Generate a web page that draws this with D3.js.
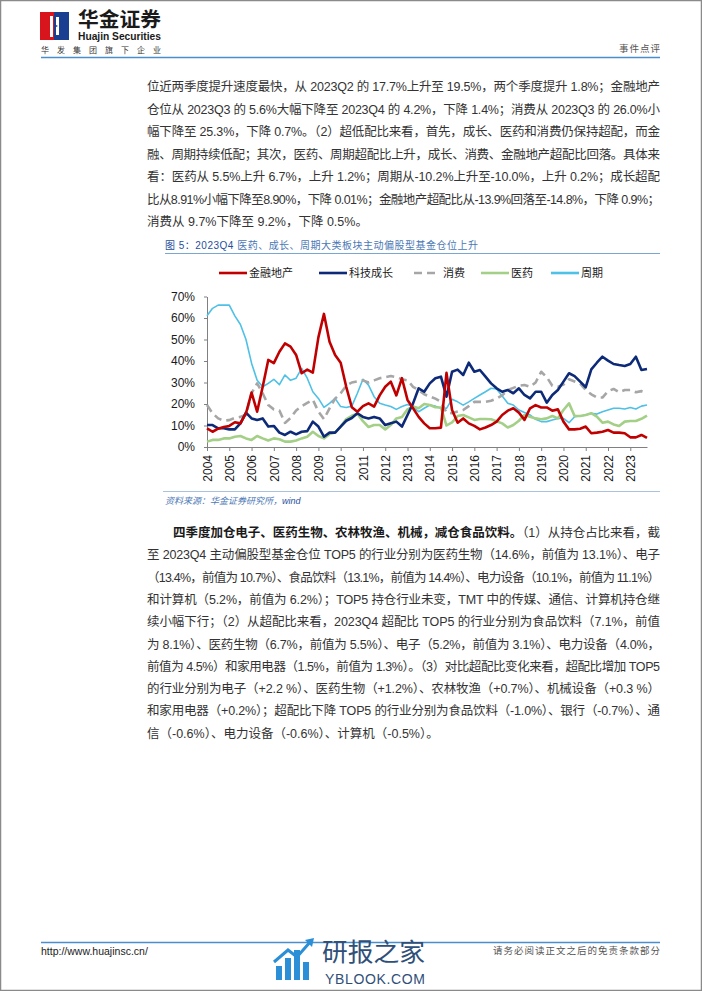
<!DOCTYPE html>
<html>
<head>
<meta charset="utf-8">
<title>2023Q4 主动偏股型基金大类板块仓位</title>
<script src="https://cdn.jsdelivr.net/npm/d3@7"></script>
<style>
  body { margin: 0; background: #fff; }
  svg { display: block; font-family: "Liberation Sans", Arial, "Noto Sans CJK SC", sans-serif; }
</style>
</head>
<body>
<svg id="page" width="702" height="991"></svg>
<script>
// ---- chart data (quarterly, 2004Q1 - 2023Q4, % of holdings) ----
const years = [2004, 2005, 2006, 2007, 2008, 2009, 2010, 2011, 2012, 2013,
               2014, 2015, 2016, 2017, 2018, 2019, 2020, 2021, 2022, 2023];
const quarterNames = ["Q1", "Q2", "Q3", "Q4"];
const quarters = years.flatMap(yr => quarterNames.map(q => yr + q));

const finance = [8.7, 7.1, 8.5, 9.3, 9.8, 11.5, 11, 15.7, 25.3, 16.4,
                 28, 40.5, 39, 44.3, 48.2, 46.7, 42.8, 34.3, 36, 34.6,
                 51, 61.9, 49, 42.8, 39.2, 28, 18.5, 16.4, 19, 20.3,
                 18.8, 24, 28, 30.4, 24, 32, 21.9, 18, 14, 11,
                 8.7, 8.7, 9, 34.5, 17.2, 11.3, 13.3, 11, 9.8, 8.2,
                 9.1, 10.2, 11.8, 14.9, 16.9, 18, 16, 12.6, 18, 19.5,
                 18.4, 18.4, 16.9, 17.5, 11.8, 8.2, 8.2, 8.5, 9.5, 6.4,
                 6.7, 7.1, 7.9, 6.7, 6.7, 6.4, 4.5, 4.5, 5.6, 4.2];
const tech = [10.2, 10.2, 8.7, 8.7, 8.2, 8.2, 11, 16, 13.3, 12.6,
              13.3, 9.5, 9.8, 6.7, 5.6, 7.1, 5.9, 7.1, 7.4, 11.8,
              9.5, 4.8, 6.7, 6.7, 9.5, 12.2, 13.5, 15.7, 14, 13.3,
              14, 13.3, 10.2, 11, 11.8, 9.5, 14.9, 20.3, 27.3, 25.7,
              29.6, 32, 32.7, 23.4, 35, 36, 33.5, 39.2, 35, 35.8,
              32.7, 29.6, 27.3, 25.7, 26.5, 25, 27.3, 24.2, 22.6, 25.7,
              25.7, 20.6, 24.2, 26.5, 30.4, 34.3, 33, 30.4, 27.8, 36.1,
              39.2, 42, 40.2, 38.6, 38.1, 37.7, 38.6, 42, 35.8, 36.3];
const consumer = [19.5, 15.7, 13.3, 12.3, 12.5, 13.5, 14, 15, 25, 29.6,
                  25, 19.5, 17.5, 17, 11.2, 13.5, 17, 19, 20.5, 22,
                  16.5, 13, 18, 22.5, 25, 28.5, 30, 30.5, 31, 30,
                  31, 32, 32.5, 33, 32.5, 31.5, 31, 28, 26.5, 24.5,
                  23.5, 22.5, 21, 16, 15.7, 16.5, 17.2, 19, 21, 21,
                  21, 21.5, 22.5, 24, 26.5, 27.5, 28.5, 28.8, 28, 30,
                  35, 32.5, 28.5, 28, 29, 31.5, 30.5, 29.5, 26.5, 24.5,
                  23, 23, 26, 27, 25.5, 26.5, 26.5, 25.5, 26, 25.3];
const pharma = [2.5, 3.3, 3.3, 4, 4, 4.8, 5.1, 4, 3.3, 5.1,
                4, 3, 4, 3.6, 2.5, 2.5, 3, 4, 4.8, 7.1,
                5.1, 4, 6, 6.7, 9.5, 13, 14.5, 15.5, 12, 9.3,
                10.2, 10.2, 8.2, 10.2, 13.3, 14, 17.5, 18.8, 18, 20,
                19.5, 18.5, 18.4, 10, 11.5, 14.4, 14.9, 13.8, 12.6, 13,
                13, 12.9, 12, 11, 9.1, 10.2, 12.2, 14.9, 14.1, 13.3,
                12.9, 13.3, 14.4, 13.3, 17.2, 20.3, 14.4, 14.4, 14.9, 15.7,
                14.1, 11.3, 11.8, 10.5, 9.8, 11.8, 12.1, 12.1, 13.1, 14.6];
const cyclical = [61, 64.5, 66, 66, 66, 61, 57, 50, 39, 31,
                  28, 29.6, 31.5, 29, 33.5, 31, 32, 36.6, 32, 25.7,
                  22.6, 18.4, 20.3, 22.6, 18.8, 18.4, 19, 25, 31.5, 28.8,
                  23.4, 20.3, 19.5, 18.8, 17.5, 18.8, 19.8, 18.8, 16.4, 18,
                  19.5, 19, 18, 18, 22.2, 21, 19.5, 21, 22.6, 24.2,
                  25.7, 27.3, 27, 23.7, 20.3, 19.5, 17.2, 16, 14.9, 12.9,
                  11.8, 11.8, 12.6, 13.3, 13.3, 11.3, 14.1, 14.4, 14.9, 15.7,
                  15.3, 16.4, 17.2, 18, 18, 17.7, 18.4, 17.7, 19, 19.5];
const yTicks = [0, 10, 20, 30, 40, 50, 60, 70];

const series = [
  { name: "周期", values: cyclical, color: "#4fc0e6", width: 1.6 },
  { name: "医药", values: pharma, color: "#a3cf86", width: 2.6 },
  { name: "消费", values: consumer, color: "#a6a6a6", width: 2.6, dash: "8,5" },
  { name: "科技成长", values: tech, color: "#0c2a78", width: 2.6 },
  { name: "金融地产", values: finance, color: "#c00000", width: 2.6 }
];
const legendOrder = ["金融地产", "科技成长", "消费", "医药", "周期"];

// ---- page text ----
const para1 = [
  "位近两季度提升速度最快，从 2023Q2 的 17.7%上升至 19.5%，两个季度提升 1.8%；金融地产",
  "仓位从 2023Q3 的 5.6%大幅下降至 2023Q4 的 4.2%，下降 1.4%；消费从 2023Q3 的 26.0%小",
  "幅下降至 25.3%，下降 0.7%。（2）超低配比来看，首先，成长、医药和消费仍保持超配，而金",
  "融、周期持续低配；其次，医药、周期超配比上升，成长、消费、金融地产超配比回落。具体来",
  "看：医药从 5.5%上升 6.7%，上升 1.2%；周期从-10.2%上升至-10.0%，上升 0.2%；成长超配",
  "比从8.91%小幅下降至8.90%，下降 0.01%；金融地产超配比从-13.9%回落至-14.8%，下降 0.9%；",
  "消费从 9.7%下降至 9.2%，下降 0.5%。"
];
const para2 = [
  "（1）从持仓占比来看，截",
  "至 2023Q4 主动偏股型基金仓位 TOP5 的行业分别为医药生物（14.6%，前值为 13.1%）、电子",
  "（13.4%，前值为 10.7%）、食品饮料（13.1%，前值为 14.4%）、电力设备（10.1%，前值为 11.1%）",
  "和计算机（5.2%，前值为 6.2%）；TOP5 持仓行业未变，TMT 中的传媒、通信、计算机持仓继",
  "续小幅下行；（2）从超配比来看，2023Q4 超配比 TOP5 的行业分别为食品饮料（7.1%，前值",
  "为 8.1%）、医药生物（6.7%，前值为 5.5%）、电子（5.2%，前值为 3.1%）、电力设备（4.0%，",
  "前值为 4.5%）和家用电器（1.5%，前值为 1.3%）。（3）对比超配比变化来看，超配比增加 TOP5",
  "的行业分别为电子（+2.2 %）、医药生物（+1.2%）、农林牧渔（+0.7%）、机械设备（+0.3 %）",
  "和家用电器（+0.2%）；超配比下降 TOP5 的行业分别为食品饮料（-1.0%）、银行（-0.7%）、通",
  "信（-0.6%）、电力设备（-0.6%）、计算机（-0.5%）。"
];
const para2Lead = "四季度加仓电子、医药生物、农林牧渔、机械，减仓食品饮料。";

const svg = d3.select("#page");

// page frame
svg.append("rect").attr("x", 0.5).attr("y", 0.5).attr("width", 701).attr("height", 990)
  .attr("fill", "#fff").attr("stroke", "#8a8a8a").attr("stroke-width", 1.5);

// ---- header ----
const header = svg.append("g");
header.append("rect").attr("x", 40).attr("y", 12).attr("width", 14).attr("height", 28).attr("fill", "#d8141d");
header.append("rect").attr("x", 54).attr("y", 12).attr("width", 15).attr("height", 28).attr("fill", "#1a3f91");
header.append("rect").attr("x", 50).attr("y", 16).attr("width", 3).attr("height", 21).attr("fill", "#fff");
header.append("polygon").attr("points", "56,17 59,17 59,35 56,35 56,27 58,26 56,25").attr("fill", "#fff");
header.append("text").attr("x", 78).attr("y", 20).attr("dy", "0.35em")
  .attr("textLength", 83).attr("lengthAdjust", "spacingAndGlyphs")
  .style("font-size", "20px").style("font-weight", "bold").attr("fill", "#1a1a1a").text("华金证券");
header.append("text").attr("x", 78).attr("y", 36).attr("dy", "0.35em")
  .attr("textLength", 83).attr("lengthAdjust", "spacingAndGlyphs")
  .style("font-size", "10.5px").style("font-weight", "bold").attr("fill", "#1a1a1a").text("Huajin Securities");
header.append("text").attr("x", 41).attr("y", 50).attr("dy", "0.35em")
  .attr("textLength", 120).attr("lengthAdjust", "spacing")
  .style("font-size", "8px").attr("fill", "#333").text("华发集团旗下企业");
header.append("text").attr("x", 619).attr("y", 49).attr("dy", "0.35em")
  .attr("textLength", 41).attr("lengthAdjust", "spacing")
  .style("font-size", "9.5px").attr("fill", "#555").text("事件点评");
header.append("line").attr("x1", 41).attr("x2", 660).attr("y1", 57.5).attr("y2", 57.5)
  .attr("stroke", "#4a8fcb").attr("stroke-width", 1.5);

// ---- body text ----
function textLine(x, yPos, width, parts, justify) {
  const t = svg.append("text").attr("x", x).attr("y", yPos).attr("dy", "0.35em")
    .style("font-size", "12.5px").attr("fill", "#333");
  parts.forEach(p => {
    t.append("tspan").text(p.text)
      .style("font-weight", p.bold ? "bold" : null)
      .attr("fill", p.bold ? "#1a1a1a" : null);
  });
  if (justify) t.attr("textLength", width).attr("lengthAdjust", "spacing");
  return t;
}

para1.forEach((line, k) => {
  textLine(147, 86.7 + 22.5 * k, 513, [{ text: line }], k < para1.length - 1);
});

para2.forEach((line, k) => {
  if (k === 0) {
    textLine(173, 532.7, 487, [{ text: para2Lead, bold: true }, { text: line }], true);
  } else {
    textLine(147, 532.7 + 22.3 * k, 513, [{ text: line }], k < para2.length - 1);
  }
});

// ---- figure caption ----
const cap = svg.append("text").attr("x", 165).attr("y", 245).attr("dy", "0.35em")
  .attr("textLength", 313).attr("lengthAdjust", "spacing")
  .style("font-size", "10px");
cap.append("tspan").text("图 5：2023Q4 ").attr("fill", "#1f4f9c");
cap.append("tspan").text("医药、成长、周期大类板块主动偏股型基金仓位上升").attr("fill", "#4b78b5");
svg.append("line").attr("x1", 165).attr("x2", 660).attr("y1", 253.5).attr("y2", 253.5)
  .attr("stroke", "#7aa6d2").attr("stroke-width", 1);

// ---- legend ----
const legendX = [219, 319, 414, 481, 551];
const legend = svg.append("g").attr("transform", "translate(0,273)");
legendOrder.forEach((name, k) => {
  const s = series.find(d => d.name === name);
  const g = legend.append("g").attr("transform", `translate(${legendX[k]},0)`);
  g.append("line").attr("x1", 0).attr("x2", name === "消费" ? 24 : 28).attr("y1", 0).attr("y2", 0)
    .attr("stroke", s.color).attr("stroke-width", 2.6)
    .attr("stroke-dasharray", s.dash || null);
  g.append("text").attr("x", name === "消费" ? 29 : 30).attr("y", 0).attr("dy", "0.35em")
    .style("font-size", "11px").attr("fill", "#1a1a1a").text(name);
});

// ---- chart ----
const x = d3.scaleLinear().domain([0, quarters.length - 1]).range([207, 647]);
const y = d3.scaleLinear().domain([0, 70]).range([447, 296.5]);

const yAxis = d3.axisLeft(y)
  .tickValues(yTicks)
  .tickFormat(d => d + "%")
  .tickSizeInner(3)
  .tickSizeOuter(0)
  .tickPadding(9);
const xAxis = d3.axisBottom(x)
  .tickValues(years.map((yr, k) => k * 4))
  .tickFormat(v => years[v / 4])
  .tickSizeInner(4)
  .tickSizeOuter(0);

const yAxisGroup = svg.append("g").attr("transform", "translate(207,0)").call(yAxis);
const xAxisGroup = svg.append("g").attr("transform", "translate(0,447)").call(xAxis);

[yAxisGroup, xAxisGroup].forEach(g => {
  g.select(".domain").attr("stroke", "#808080");
  g.selectAll(".tick line").attr("stroke", "#808080");
  g.selectAll("text").style("font-size", "12px").style("font-family", "'Liberation Sans', Arial, sans-serif").attr("fill", "#1a1a1a");
});
xAxisGroup.selectAll(".tick text")
  .attr("transform", "rotate(-90)")
  .attr("x", -8)
  .attr("y", 0)
  .attr("dy", "0.35em")
  .style("text-anchor", "end");

const line = d3.line()
  .x((d, i) => x(i))
  .y(d => y(d));

const plot = svg.append("g");
series.forEach(s => {
  plot.append("path")
    .attr("d", line(s.values))
    .attr("fill", "none")
    .attr("stroke", s.color)
    .attr("stroke-width", s.width)
    .attr("stroke-linejoin", "round")
    .attr("stroke-dasharray", s.dash || null);
});

// ---- source ----
svg.append("line").attr("x1", 163).attr("x2", 660).attr("y1", 491.5).attr("y2", 491.5)
  .attr("stroke", "#a9c3dc").attr("stroke-width", 1);
const src = svg.append("text").attr("x", 165).attr("y", 501).attr("dy", "0.35em")
  .style("font-size", "9px").style("font-style", "italic");
src.append("tspan").text("资料来源：华金证券研究所，").attr("fill", "#4b78b5");
src.append("tspan").text("wind").attr("fill", "#1f4f9c");

// ---- footer ----
svg.append("line").attr("x1", 41).attr("x2", 660).attr("y1", 942.5).attr("y2", 942.5)
  .attr("stroke", "#4a8fcb").attr("stroke-width", 1.5);
svg.append("text").attr("x", 41).attr("y", 951).attr("dy", "0.35em")
  .style("font-size", "10.5px").attr("fill", "#1a1a1a").text("http://www.huajinsc.cn/");
svg.append("text").attr("x", 493).attr("y", 951).attr("dy", "0.35em")
  .attr("textLength", 167).attr("lengthAdjust", "spacing")
  .style("font-size", "9.5px").attr("fill", "#555").text("请务必阅读正文之后的免责条款部分");

// watermark
const wm = svg.append("g");
[[276, 966], [285, 958], [294, 950], [303, 962]].forEach(([bx, top]) => {
  wm.append("rect").attr("x", bx).attr("y", top).attr("width", 6).attr("height", 980 - top).attr("fill", "#2a8fd6");
});
wm.append("polyline").attr("points", "274,962 288,950 297,957 311,941")
  .attr("fill", "none").attr("stroke", "#2a8fd6").attr("stroke-width", 3);
wm.append("polygon").attr("points", "305,940 314,938 312,947").attr("fill", "#2a8fd6");
wm.append("text").attr("x", 322).attr("y", 952).attr("dy", "0.35em")
  .attr("textLength", 103).attr("lengthAdjust", "spacingAndGlyphs")
  .style("font-size", "25px").attr("fill", "#2f4f78").text("研报之家");
wm.append("text").attr("x", 325).attr("y", 979).attr("dy", "0.35em")
  .attr("textLength", 100).attr("lengthAdjust", "spacing")
  .style("font-size", "14px").attr("fill", "#2f4f78").text("YBLOOK.COM");
</script>
</body>
</html>
